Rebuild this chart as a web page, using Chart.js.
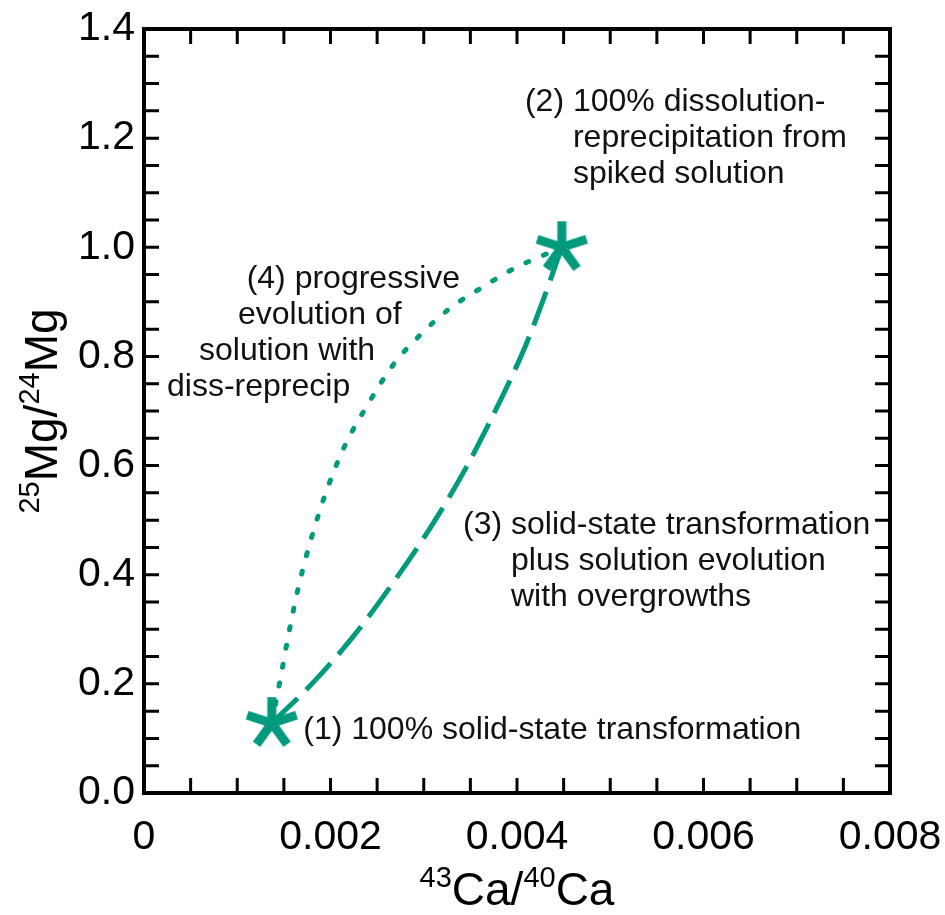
<!DOCTYPE html>
<html>
<head>
<meta charset="utf-8">
<script src="https://cdn.jsdelivr.net/npm/chart.js@4.4.1/dist/chart.umd.min.js"></script>
<style>
  html, body { margin: 0; padding: 0; background: #fff; }
  #wrap { width: 945px; height: 915px; }
</style>
</head>
<body>
<div id="wrap"><canvas id="isoChart" width="945" height="915"></canvas></div>
<script>
// End members: (1) solid-state transformation, (2) dissolution-reprecipitation
const endX = [0.00137, 0.00448];
const endY = [0.128, 1.0];

// Path (3): solid-state transformation plus solution evolution with overgrowths
const pathSolidX = [0.00137, 0.00180, 0.00224, 0.00265, 0.00310, 0.00346, 0.00384, 0.00408, 0.00428, 0.00448];
const pathSolidY = [0.128, 0.200, 0.286, 0.380, 0.494, 0.598, 0.726, 0.815, 0.903, 1.000];

// Path (4): progressive evolution of solution with diss-reprecip
const pathSolnX = [0.00137, 0.00146, 0.00155, 0.00166, 0.00180, 0.00196, 0.00215, 0.00240, 0.00267, 0.00296, 0.00328, 0.00364, 0.00400, 0.00425, 0.00448];
const pathSolnY = [0.128, 0.207, 0.290, 0.380, 0.470, 0.555, 0.635, 0.712, 0.784, 0.839, 0.888, 0.928, 0.964, 0.983, 1.000];

const xTickLabels = [0, 0.002, 0.004, 0.006, 0.008];
const yTickLabels = [0, 0.2, 0.4, 0.6, 0.8, 1.0, 1.2, 1.4];

const TEAL = '#009a7d';
const FONT = "'Liberation Sans', Arial, Helvetica, sans-serif";

// text notes, anchored in data units; later lines hang under the text after the number
const notes = [
  { x: 0.004085, y: 1.2497, lines: ['(2) 100% dissolution-', 'reprecipitation from', 'spiked solution'], hang: '(2) ' },
  { x: 0.003421, y: 0.4746, lines: ['(3) solid-state transformation', 'plus solution evolution', 'with overgrowths'], hang: '(3) ' },
  { x: 0.001708, y: 0.0989, lines: ['(1) 100% solid-state transformation'] },
  { x: 0.001101, y: 0.9254, lines: ['(4) progressive'] },
  { x: 0.001008, y: 0.8594, lines: ['evolution of'] },
  { x: 0.000590, y: 0.7934, lines: ['solution with'] },
  { x: 0.000247, y: 0.7274, lines: ['diss-reprecip'] }
];

function toPoints(xs, ys) {
  return xs.map((x, i) => ({ x: x, y: ys[i] }));
}

// five-armed asterisk marker
function makeAsterisk(size, color) {
  const c = document.createElement('canvas');
  c.width = size;
  c.height = size;
  const g = c.getContext('2d');
  const r = size / 2 - 1;
  g.strokeStyle = color;
  g.lineWidth = 9;
  g.translate(size / 2, size / 2);
  for (let k = 0; k < 5; k++) {
    const a = -Math.PI / 2 + k * 2 * Math.PI / 5;
    g.beginPath();
    g.moveTo(0, 0);
    g.lineTo(r * Math.cos(a), r * Math.sin(a));
    g.stroke();
  }
  return c;
}

// draws text made of normal and superscript pieces, centred on (cx, baseline)
function drawSupText(ctx, parts, cx, base, size, supSize, raise) {
  let w = 0;
  parts.forEach(p => {
    ctx.font = (p.sup ? supSize : size) + 'px ' + FONT;
    p.w = ctx.measureText(p.t).width;
    w += p.w;
  });
  let x = cx - w / 2;
  ctx.textAlign = 'left';
  ctx.textBaseline = 'alphabetic';
  parts.forEach(p => {
    ctx.font = (p.sup ? supSize : size) + 'px ' + FONT;
    ctx.fillText(p.t, x, p.sup ? base - raise : base);
    x += p.w;
  });
}

const framePlugin = {
  id: 'frame',
  afterDraw(chart) {
    const { ctx, chartArea: a, scales: { x, y } } = chart;
    ctx.save();
    ctx.strokeStyle = '#000';

    // inward ticks on every side
    ctx.lineWidth = 3;
    ctx.beginPath();
    for (let i = 1; i < 16; i++) {
      const px = x.getPixelForValue(i * 0.0005);
      ctx.moveTo(px, a.bottom); ctx.lineTo(px, a.bottom - 15);
      ctx.moveTo(px, a.top); ctx.lineTo(px, a.top + 15);
    }
    for (let i = 1; i < 28; i++) {
      const py = y.getPixelForValue(i * 0.05);
      ctx.moveTo(a.left, py); ctx.lineTo(a.left + 15, py);
      ctx.moveTo(a.right, py); ctx.lineTo(a.right - 15, py);
    }
    ctx.stroke();

    ctx.lineWidth = 4;
    ctx.strokeRect(a.left, a.top, a.right - a.left, a.bottom - a.top);

    // notes
    ctx.fillStyle = '#111';
    ctx.font = '32px ' + FONT;
    ctx.textAlign = 'left';
    ctx.textBaseline = 'alphabetic';
    notes.forEach(n => {
      const x0 = x.getPixelForValue(n.x);
      const y0 = y.getPixelForValue(n.y);
      const indent = n.hang ? ctx.measureText(n.hang).width : 0;
      n.lines.forEach((t, i) => {
        ctx.fillText(t, i === 0 ? x0 : x0 + indent, y0 + i * 36);
      });
    });

    // axis titles
    ctx.fillStyle = '#000';
    const cx = (a.left + a.right) / 2;
    drawSupText(ctx, [{ t: '43', sup: true }, { t: 'Ca/' }, { t: '40', sup: true }, { t: 'Ca' }], cx, 905, 46, 29, 18);

    ctx.save();
    ctx.translate(57, (a.top + a.bottom) / 2);
    ctx.rotate(-Math.PI / 2);
    drawSupText(ctx, [{ t: '25', sup: true }, { t: 'Mg/' }, { t: '24', sup: true }, { t: 'Mg' }], 0, 0, 46, 29, 18);
    ctx.restore();

    ctx.restore();
  }
};

const asterisk = makeAsterisk(54, TEAL);

new Chart(document.getElementById('isoChart').getContext('2d'), {
  type: 'scatter',
  data: {
    datasets: [
      {
        label: 'end members',
        data: toPoints(endX, endY),
        pointStyle: asterisk,
        pointRadius: 26,
        showLine: false
      },
      {
        label: '(3) solid-state transformation plus solution evolution',
        data: toPoints(pathSolidX, pathSolidY),
        showLine: true,
        borderColor: TEAL,
        borderWidth: 5,
        borderDash: [36, 12],
        pointRadius: 0,
        cubicInterpolationMode: 'monotone'
      },
      {
        label: '(4) progressive evolution of solution',
        data: toPoints(pathSolnX, pathSolnY),
        showLine: true,
        borderColor: TEAL,
        borderWidth: 5,
        borderDash: [3, 16],
        borderCapStyle: 'round',
        pointRadius: 0,
        cubicInterpolationMode: 'monotone'
      }
    ]
  },
  options: {
    responsive: false,
    animation: false,
    layout: { padding: { top: 29, right: 55, bottom: 0, left: 0 } },
    plugins: {
      legend: { display: false },
      tooltip: { enabled: false }
    },
    scales: {
      x: {
        type: 'linear',
        min: 0,
        max: 0.008,
        grid: { display: false, drawTicks: false },
        border: { display: false },
        afterBuildTicks: s => { s.ticks = xTickLabels.map(v => ({ value: v })); },
        afterFit: s => {
          s.height = 122;
          s.paddingRight = 0;
        },
        ticks: {
          padding: 20,
          color: '#000',
          maxRotation: 0,
          font: { size: 41, family: FONT },
          callback: v => v === 0 ? '0' : v.toFixed(3)
        }
      },
      y: {
        type: 'linear',
        min: 0,
        max: 1.4,
        grid: { display: false, drawTicks: false },
        border: { display: false },
        afterBuildTicks: s => { s.ticks = yTickLabels.map(v => ({ value: v })); },
        afterFit: s => {
          s.width = 144;
          s.paddingTop = 0;
        },
        ticks: {
          padding: 9,
          color: '#000',
          font: { size: 41, family: FONT },
          callback: v => v.toFixed(1)
        }
      }
    }
  },
  plugins: [framePlugin]
});
</script>
</body>
</html>
